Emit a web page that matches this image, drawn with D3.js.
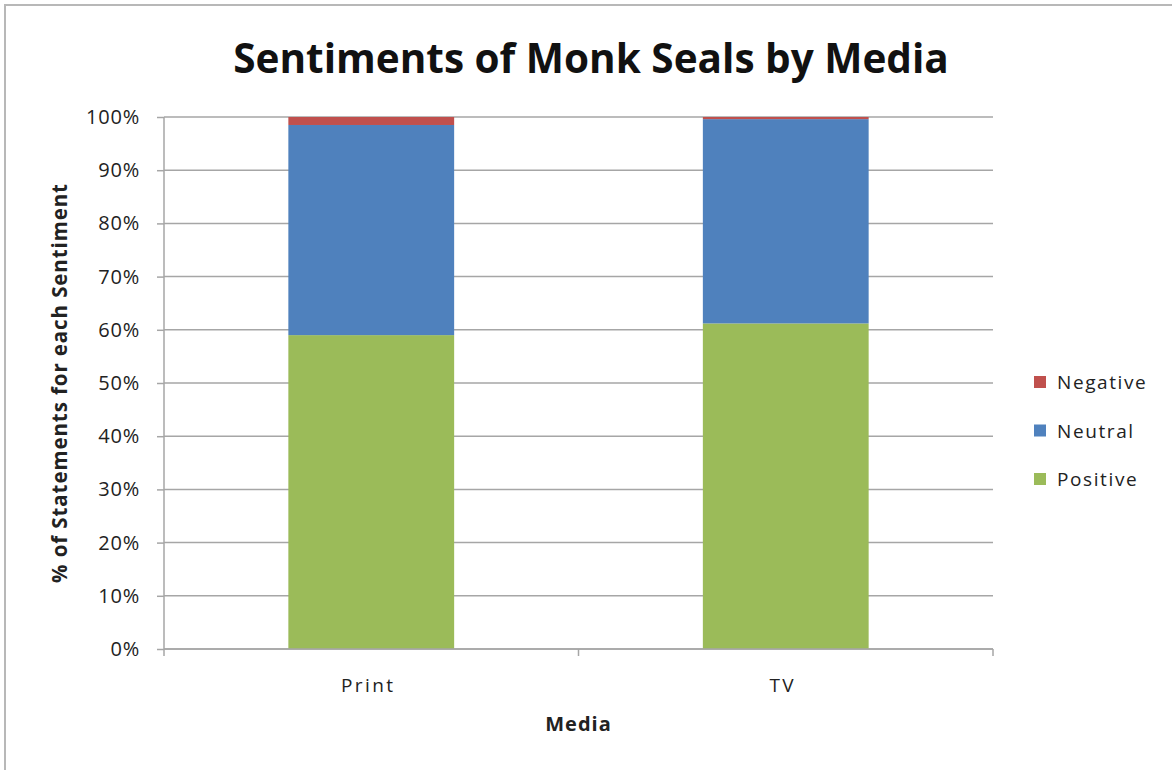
<!DOCTYPE html>
<html>
<head>
<meta charset="utf-8">
<script src="https://cdn.jsdelivr.net/npm/d3@7"></script>
<style>
  body { margin: 0; background: #fff; }
  svg { display: block; font-family: "Open Sans", "DejaVu Sans", sans-serif; }
</style>
</head>
<body>
<script>
// data (shares of statements, in %)
const media = ['Print', 'TV'];
const sentiments = ['Positive', 'Neutral', 'Negative'];
const positive = [59.0, 61.2];
const neutral = [39.5, 38.4];
const negative = [1.5, 0.4];
const yTicks = [0, 10, 20, 30, 40, 50, 60, 70, 80, 90, 100];
const legendOrder = ['Negative', 'Neutral', 'Positive'];

const colors = { Positive: '#9bbb59', Neutral: '#4f81bd', Negative: '#c0504d' };

const width = 1172, height = 770;
const margin = { left: 164, right: 179, top: 117, bottom: 121 };

const svg = d3.select('body').append('svg')
  .attr('width', width)
  .attr('height', height);

// outer chart border (runs off right/bottom of the shot)
svg.append('rect')
  .attr('x', 5).attr('y', 5)
  .attr('width', width + 20).attr('height', height + 20)
  .attr('fill', '#fff')
  .attr('stroke', '#b8b8b8')
  .attr('stroke-width', 2);

const plotW = width - margin.left - margin.right;
const plotH = height - margin.top - margin.bottom;

const g = svg.append('g')
  .attr('transform', `translate(${margin.left}, ${margin.top})`);

const x = d3.scaleBand()
  .domain(media)
  .range([0, plotW])
  .paddingInner(0.6)
  .paddingOuter(0.3);

const y = d3.scaleLinear()
  .domain([0, 100])
  .range([plotH, 0]);

const rows = media.map((m, i) => ({
  media: m, Positive: positive[i], Neutral: neutral[i], Negative: negative[i]
}));
const stack = d3.stack().keys(sentiments)(rows);

// gridlines
g.append('g')
  .selectAll('line')
  .data(yTicks)
  .enter()
  .append('line')
    .attr('x1', 0).attr('x2', plotW)
    .attr('y1', d => y(d)).attr('y2', d => y(d))
    .attr('stroke', '#a6a6a6')
    .attr('stroke-width', 1.5);

// bars
g.selectAll('g.layer')
  .data(stack)
  .enter()
  .append('g')
    .attr('class', 'layer')
    .attr('fill', d => colors[d.key])
  .selectAll('rect')
  .data(d => d)
  .enter()
  .append('rect')
    .attr('x', d => x(d.data.media))
    .attr('y', d => y(d[1]))
    .attr('width', x.bandwidth())
    .attr('height', d => y(d[0]) - y(d[1]));

// y axis
const yaxis = g.append('g')
  .call(d3.axisLeft(y).tickValues(yTicks).tickSize(7).tickFormat(d => d + '%'));
yaxis.selectAll('path, line').attr('stroke', '#a6a6a6').attr('stroke-width', 1.5);
yaxis.select('.domain').attr('d', `M0,${plotH}V0`);
yaxis.selectAll('text')
  .attr('font-size', 20)
  .attr('letter-spacing', 0.8)
  .attr('fill', '#222')
  .attr('x', -24)
  .attr('font-family', '"Open Sans", sans-serif');

// x axis: ticks sit between categories, like a category axis
const xaxis = g.append('g')
  .attr('transform', `translate(0, ${plotH})`);
xaxis.append('line')
  .attr('x1', 0).attr('x2', plotW)
  .attr('stroke', '#a6a6a6').attr('stroke-width', 1.5);
const bounds = [0, plotW / 2, plotW];
xaxis.selectAll('line.tick')
  .data(bounds)
  .enter()
  .append('line')
    .attr('class', 'tick')
    .attr('x1', d => d).attr('x2', d => d)
    .attr('y1', 0).attr('y2', 7)
    .attr('stroke', '#a6a6a6').attr('stroke-width', 1.5);
xaxis.selectAll('text')
  .data(media)
  .enter()
  .append('text')
    .attr('x', d => x(d) + x.bandwidth() / 2 - 3)
    .attr('y', 43)
    .attr('text-anchor', 'middle')
    .attr('font-size', 19)
    .attr('letter-spacing', 2.4)
    .attr('fill', '#222')
    .text(d => d);

// title + axis titles
svg.append('text')
  .attr('x', 591).attr('y', 73)
  .attr('text-anchor', 'middle')
  .attr('font-size', 40.5)
  .attr('font-weight', 'bold')
  .attr('fill', '#111')
  .text('Sentiments of Monk Seals by Media');

svg.append('text')
  .attr('x', margin.left + plotW / 2).attr('y', 731)
  .attr('text-anchor', 'middle')
  .attr('font-size', 20)
  .attr('letter-spacing', 1)
  .attr('font-weight', 'bold')
  .attr('fill', '#222')
  .text('Media');

svg.append('text')
  .attr('transform', `translate(67, ${margin.top + plotH / 2}) rotate(-90)`)
  .attr('text-anchor', 'middle')
  .attr('font-size', 20.5)
  .attr('letter-spacing', 0.9)
  .attr('font-weight', 'bold')
  .attr('fill', '#222')
  .text('% of Statements for each Sentiment');

// legend
const legend = svg.append('g')
  .attr('transform', 'translate(1034, 382)');
const item = legend.selectAll('g')
  .data(legendOrder)
  .enter()
  .append('g')
    .attr('transform', (d, i) => `translate(0, ${i * 48.5})`);
item.append('rect')
  .attr('x', 0).attr('y', -6)
  .attr('width', 12).attr('height', 12)
  .attr('fill', d => colors[d]);
item.append('text')
  .attr('x', 23).attr('y', 7)
  .attr('font-size', 19)
  .attr('letter-spacing', 1.6)
  .attr('fill', '#222')
  .text(d => d);
</script>
</body>
</html>
